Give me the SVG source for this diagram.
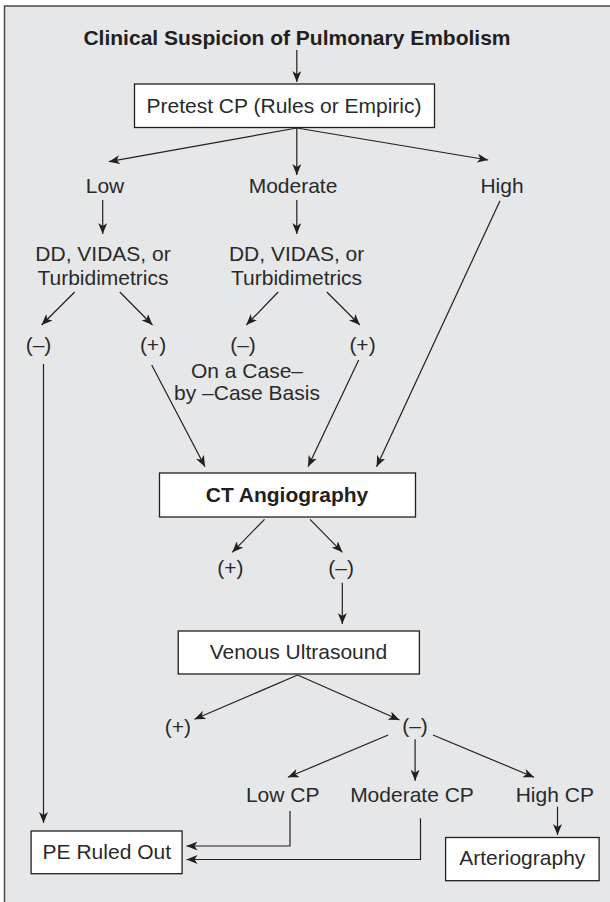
<svg xmlns="http://www.w3.org/2000/svg" width="610" height="902" viewBox="0 0 610 902">
<style>
.t{font-family:"Liberation Sans",Arial,sans-serif;font-size:21px;fill:#2a2a2a;text-anchor:middle}
.b{font-weight:bold;fill:#231f20}
.box{fill:#fff;stroke:#231f20;stroke-width:1.3}
.c line,.c polyline{stroke:#231f20;stroke-width:1.2;fill:none}
.a{marker-end:url(#ah)}
</style>
<defs>
<marker id="ah" markerUnits="userSpaceOnUse" markerWidth="12" markerHeight="9" refX="11" refY="4.5" orient="auto">
<path d="M0,0 L11,4.5 L0,9 L3,4.5 z" fill="#231f20"/>
</marker>
</defs>
<rect x="0" y="0" width="610" height="902" fill="#fff"/>
<rect x="4.5" y="6" width="620" height="910" fill="#e6e7e8" stroke="#4a4a4a" stroke-width="1.5"/>

<g id="title"><text class="t b" x="297" y="45">Clinical Suspicion of Pulmonary Embolism</text></g>
<g id="pretest"><rect class="box" x="134.5" y="84" width="300" height="43.5"/><text class="t" x="284" y="113">Pretest CP (Rules or Empiric)</text></g>
<g id="low"><text class="t" x="105" y="193">Low</text></g>
<g id="moderate"><text class="t" x="293" y="193">Moderate</text></g>
<g id="high"><text class="t" x="502" y="193">High</text></g>
<g id="dd1"><text class="t" x="103" y="261">DD, VIDAS, or</text><text class="t" x="103" y="285">Turbidimetrics</text></g>
<g id="dd2"><text class="t" x="296.6" y="261">DD, VIDAS, or</text><text class="t" x="296.6" y="285">Turbidimetrics</text></g>
<g id="neg1"><text class="t" x="38.5" y="352">(–)</text></g>
<g id="pos1"><text class="t" x="153" y="352">(+)</text></g>
<g id="neg2"><text class="t" x="243" y="352">(–)</text></g>
<g id="pos2"><text class="t" x="362.5" y="352">(+)</text></g>
<g id="casebasis"><text class="t" x="247" y="378">On a Case–</text><text class="t" x="247" y="400">by –Case Basis</text></g>
<g id="cta"><rect class="box" x="159.5" y="473" width="256" height="44"/><text class="t b" x="287" y="502">CT Angiography</text></g>
<g id="pos3"><text class="t" x="230.3" y="575">(+)</text></g>
<g id="neg3"><text class="t" x="341.2" y="575">(–)</text></g>
<g id="vus"><rect class="box" x="178.2" y="631" width="241.2" height="43"/><text class="t" x="298.4" y="659">Venous Ultrasound</text></g>
<g id="pos4"><text class="t" x="177.8" y="734">(+)</text></g>
<g id="neg4"><text class="t" x="415" y="733">(–)</text></g>
<g id="lowcp"><text class="t" x="282.7" y="802">Low CP</text></g>
<g id="modcp"><text class="t" x="412" y="802">Moderate CP</text></g>
<g id="highcp"><text class="t" x="554.8" y="802">High CP</text></g>
<g id="peout"><rect class="box" x="31.1" y="831" width="151" height="42.7"/><text class="t" x="106.8" y="859">PE Ruled Out</text></g>
<g id="arterio"><rect class="box" x="445.6" y="837.5" width="153.5" height="43.2"/><text class="t" x="522.3" y="865">Arteriography</text></g>

<g id="connectors" class="c">
<line class="a" x1="296.8" y1="50" x2="296.8" y2="82"/>
<line class="a" x1="296.8" y1="128" x2="108.9" y2="161.7"/>
<line class="a" x1="296.8" y1="128" x2="296.8" y2="175"/>
<line class="a" x1="296.8" y1="128" x2="488.2" y2="160"/>
<line class="a" x1="102.7" y1="200" x2="102.7" y2="234"/>
<line class="a" x1="296.8" y1="200" x2="296.8" y2="234"/>
<line class="a" x1="74.7" y1="292" x2="41.6" y2="325"/>
<line class="a" x1="119.8" y1="292" x2="152.5" y2="325"/>
<line class="a" x1="278.2" y1="292" x2="246.3" y2="325"/>
<line class="a" x1="326.8" y1="292" x2="359.9" y2="325"/>
<line class="a" x1="43.5" y1="364" x2="43.5" y2="823"/>
<line class="a" x1="151.7" y1="365" x2="205" y2="466.7"/>
<line class="a" x1="358.7" y1="360" x2="308" y2="466.7"/>
<line class="a" x1="500" y1="200.7" x2="376.6" y2="466.7"/>
<line class="a" x1="264.5" y1="519.3" x2="232.3" y2="552.3"/>
<line class="a" x1="310" y1="519.3" x2="342.4" y2="552.3"/>
<line class="a" x1="342.3" y1="582.7" x2="342.3" y2="624"/>
<line class="a" x1="297.6" y1="675" x2="194.5" y2="719.3"/>
<line class="a" x1="297.6" y1="675" x2="399.5" y2="720"/>
<line class="a" x1="388.2" y1="735" x2="287.9" y2="777.3"/>
<line class="a" x1="415.1" y1="739.3" x2="415.1" y2="780.7"/>
<line class="a" x1="433" y1="735" x2="534.1" y2="777.3"/>
<polyline class="a" points="290,811 290,846 186.5,846"/>
<polyline class="a" points="420.5,818.3 420.5,859.5 186.5,859.5"/>
<line class="a" x1="557.5" y1="806.7" x2="557.5" y2="835"/>
</g>
</svg>
